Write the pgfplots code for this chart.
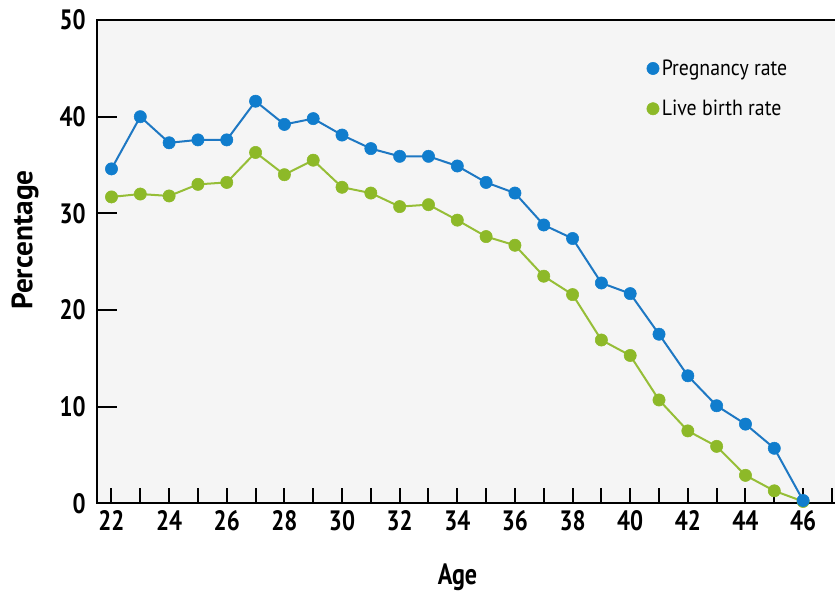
\documentclass[border=0pt]{standalone}
\usepackage{fontspec}
\setmainfont{PT Sans}
\newfontfamily\tickfont{PT Sans}[FakeStretch=0.82]
\newfontfamily\legfont{PT Sans}[FakeStretch=0.9]
\usepackage{pgfplots}
\pgfplotsset{compat=1.18}
\definecolor{pblue}{RGB}{16,125,205}
\definecolor{pblueline}{RGB}{30,120,195}
\definecolor{pgreen}{RGB}{141,185,40}
\definecolor{pgreenline}{RGB}{150,190,55}
\definecolor{bgc}{RGB}{245,245,245}
\pgfplotstableread{
age preg
22 34.6
23 40.0
24 37.3
25 37.6
26 37.6
27 41.6
28 39.2
29 39.8
30 38.1
31 36.7
32 35.9
33 35.9
34 34.9
35 33.2
36 32.1
37 28.8
38 27.4
39 22.8
40 21.7
41 17.5
42 13.2
43 10.1
44 8.2
45 5.7
46 0.3
}\pregtable
\pgfplotstableread{
age live
22 31.7
23 32.0
24 31.8
25 33.0
26 33.2
27 36.3
28 34.0
29 35.5
30 32.7
31 32.1
32 30.7
33 30.9
34 29.3
35 27.6
36 26.7
37 23.5
38 21.6
39 16.9
40 15.3
41 10.7
42 7.5
43 5.9
44 2.9
45 1.3
46 0.2
}\livetable
\begin{document}
\begin{tikzpicture}
\begin{axis}[
  scale only axis,
  width=553.5pt, height=362.25pt,
  xmin=21.5, xmax=47.13, ymin=0, ymax=50,
  xtick={22,...,47},
  xticklabels={22,,24,,26,,28,,30,,32,,34,,36,,38,,40,,42,,44,,46,},
  ytick={0,10,20,30,40,50},
  tick pos=left,
  tick align=inside,
  xtick style={/pgfplots/major tick length=11.5pt, line width=1.5pt, black},
  ytick style={/pgfplots/major tick length=15pt, line width=1.5pt, black},
  axis line style={line width=1.5pt, black},
  axis background/.style={fill=bgc},
  /pgf/number format/assume math mode=true,
  ticklabel style={font=\tickfont\bfseries\fontsize{21}{21}\selectfont},
  xticklabel style={yshift=-2pt},
  yticklabel style={xshift=-5pt},
  xlabel={\bfseries Age},
  ylabel={\bfseries Percentage},
  xlabel style={font=\tickfont\fontsize{22}{22}\selectfont, at={(axis description cs:0.488,-0.153)}, anchor=center},
  ylabel style={font=\fontsize{22}{22}\selectfont, at={(axis description cs:-0.0976,0.545)}, anchor=center},
  legend style={draw=none, fill=none, at={(axis description cs:0.744,0.924)}, anchor=north west,
    font=\legfont\fontsize{16.5}{16.5}\selectfont, row sep=13pt, inner sep=0pt,
    /tikz/every even column/.append style={column sep=12pt}},
  legend cell align=left,
]
\addlegendimage{only marks, mark=*, mark size=4.6pt, mark options={fill=pblue, draw=pblue}}
\addlegendentry{Pregnancy rate}
\addlegendimage{only marks, mark=*, mark size=4.6pt, mark options={fill=pgreen, draw=pgreen}}
\addlegendentry{Live birth rate}
\addplot[forget plot, pgreenline, line width=1.5pt, mark=*, mark size=4.6pt, mark options={fill=pgreen, draw=pgreen, line width=0.4pt}] table[x=age, y=live] {\livetable};
\addplot[forget plot, pblueline, line width=1.5pt, mark=*, mark size=4.6pt, mark options={fill=pblue, draw=pblue, line width=0.4pt}] table[x=age, y=preg] {\pregtable};
\end{axis}
\pgfresetboundingbox
\useasboundingbox ([shift={(-72.75pt,-68.25pt)}]current axis.south west) rectangle ([shift={(-0.5pt,15pt)}]current axis.north east);
\end{tikzpicture}
\end{document}
